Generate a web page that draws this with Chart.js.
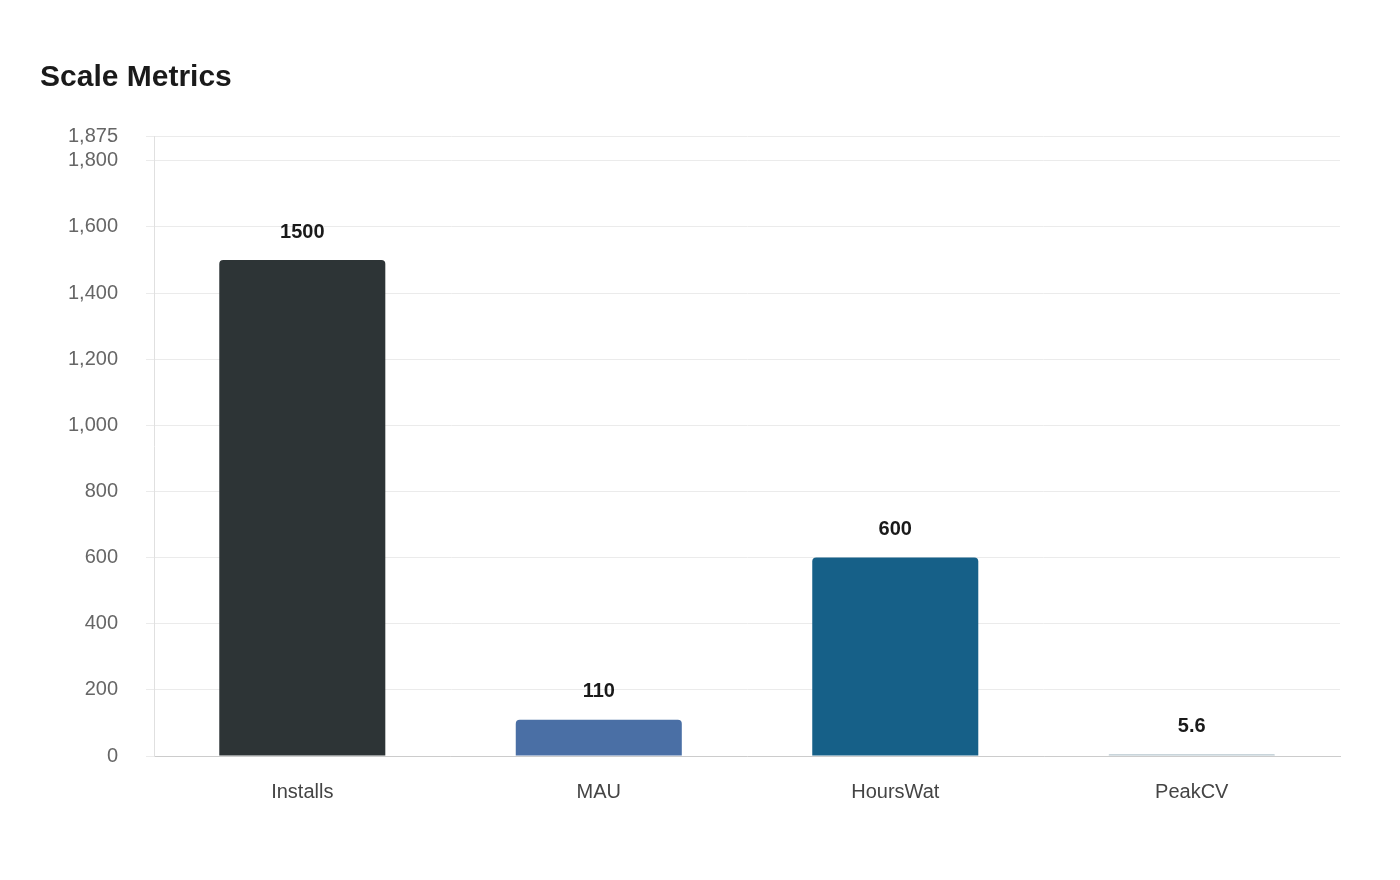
<!DOCTYPE html>
<html>
<head>
<meta charset="utf-8">
<script src="https://cdn.jsdelivr.net/npm/chart.js@4"></script>
<style>
  body { margin: 0; background: #fff; }
  #wrap { width: 1400px; height: 880px; }
</style>
</head>
<body>
<div id="wrap"><canvas id="chart"></canvas></div>
<script>
const categories = ['Installs', 'MAU', 'HoursWat', 'PeakCV'];
const values = [1500, 110, 600, 5.6];
const barColors = ['#2d3436', '#4a6fa5', '#166088', '#b8c8d0'];

// draw value labels above bars
const valueLabels = {
  id: 'valueLabels',
  afterDatasetsDraw(chart) {
    const ctx = chart.ctx;
    const meta = chart.getDatasetMeta(0);
    ctx.save();
    ctx.font = 'bold 20px "Liberation Sans", Arial, sans-serif';
    ctx.fillStyle = '#1a1a1a';
    ctx.textAlign = 'center';
    ctx.textBaseline = 'bottom';
    meta.data.forEach((bar, i) => {
      ctx.fillText(String(values[i]), bar.x, bar.y - 18);
    });
    ctx.restore();
  }
};

new Chart(document.getElementById('chart'), {
  type: 'bar',
  data: {
    labels: categories,
    datasets: [{
      data: values,
      backgroundColor: barColors,
      borderRadius: 4,
      borderSkipped: 'bottom',
      barPercentage: 0.56,
      categoryPercentage: 1
    }]
  },
  options: {
    responsive: true,
    maintainAspectRatio: false,
    animation: false,
    layout: { padding: { left: 40, right: 60, top: 60, bottom: 60 } },
    plugins: {
      legend: { display: false },
      tooltip: { enabled: false },
      title: {
        display: true,
        text: 'Scale Metrics',
        align: 'start',
        color: '#1a1a1a',
        font: { family: '"Liberation Sans", Arial, sans-serif', size: 30, weight: 'bold' },
        padding: { top: 0, bottom: 40 }
      }
    },
    scales: {
      x: {
        grid: { display: false },
        border: { color: '#cccccc' },
        ticks: {
          color: '#444',
          padding: 16,
          font: { family: '"Liberation Sans", Arial, sans-serif', size: 20 }
        }
      },
      y: {
        min: 0,
        max: 1875,
        grid: { color: '#ebebeb' },
        border: { color: '#e0e0e0' },
        ticks: {
          stepSize: 200,
          color: '#666',
          padding: 28,
          font: { family: '"Liberation Sans", Arial, sans-serif', size: 20 }
        }
      }
    }
  },
  plugins: [valueLabels]
});
</script>
</body>
</html>
